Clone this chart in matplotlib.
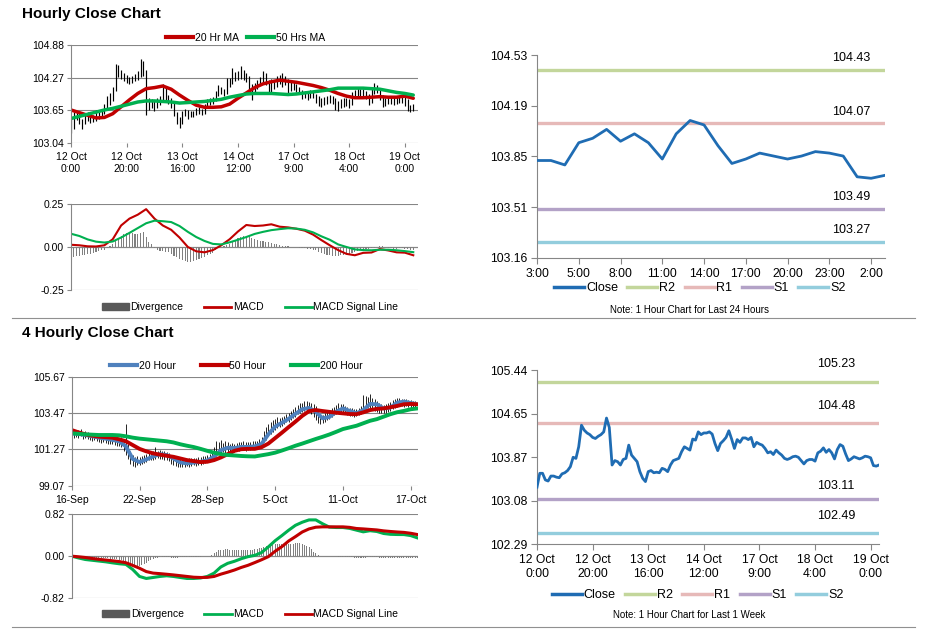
import matplotlib
matplotlib.use('Agg')
import matplotlib.pyplot as plt
from matplotlib.lines import Line2D
from matplotlib.patches import Patch
import numpy as np

plt.rcParams['font.family'] = ['Liberation Sans', 'DejaVu Sans']

# ---------------- hourly data: 12 Oct 0:00 -> 19 Oct, one value per hour ----------------
hourly_close = [
    103.32, 103.57, 103.57, 103.45, 103.43, 103.52, 103.52, 103.50, 103.49, 103.56,
    103.58, 103.62, 103.69, 103.86, 103.84, 104.05, 104.44, 104.35, 104.30, 104.27,
    104.22, 104.20, 104.24, 104.27, 104.32, 104.57, 104.40, 103.72, 103.80, 103.78,
    103.72, 103.82, 103.84, 104.08, 103.90, 103.84, 103.78, 103.60, 103.48, 103.42,
    103.60, 103.62, 103.58, 103.59, 103.58, 103.66, 103.64, 103.60, 103.72, 103.80,
    103.82, 103.84, 103.96, 104.05, 104.02, 103.99, 104.19, 104.17, 104.32, 104.27,
    104.30, 104.30, 104.32, 104.28, 104.11, 103.98, 104.11, 104.16, 104.22, 104.34,
    104.19, 104.02, 104.18, 104.13, 104.21, 104.21, 104.18, 104.22, 104.05, 104.13,
    104.10, 104.08, 104.02, 103.94, 103.96, 103.91, 103.99, 103.94, 103.90, 103.84,
    103.82, 103.84, 103.87, 103.88, 103.86, 103.80, 103.74, 103.80, 103.82, 103.82,
    103.79, 103.94, 103.97, 104.03, 103.95, 104.00, 103.94, 103.83, 104.00, 104.09,
    104.06, 103.92, 103.80, 103.83, 103.87, 103.85, 103.83, 103.85, 103.88, 103.87,
    103.85, 103.71, 103.70, 103.72,
]
hourly_hi = [
    103.50, 103.62, 103.63, 103.60, 103.50, 103.60, 103.62, 103.58, 103.56, 103.66,
    103.64, 103.68, 103.78, 103.92, 103.98, 104.10, 104.52, 104.50, 104.42, 104.36,
    104.32, 104.28, 104.30, 104.34, 104.40, 104.62, 104.58, 104.42, 103.88, 103.86,
    103.82, 103.88, 103.92, 104.14, 104.10, 103.94, 103.88, 103.80, 103.62, 103.52,
    103.64, 103.68, 103.66, 103.64, 103.64, 103.70, 103.72, 103.68, 103.78, 103.86,
    103.88, 103.90, 104.02, 104.12, 104.10, 104.06, 104.26, 104.26, 104.44, 104.38,
    104.40, 104.48, 104.42, 104.36, 104.30, 104.14, 104.16, 104.22, 104.28, 104.40,
    104.36, 104.22, 104.24, 104.22, 104.30, 104.32, 104.36, 104.30, 104.24, 104.18,
    104.18, 104.14, 104.10, 104.04, 104.02, 103.98, 104.04, 104.02, 103.96, 103.92,
    103.88, 103.90, 103.92, 103.94, 103.92, 103.88, 103.82, 103.86, 103.88, 103.88,
    103.86, 104.00, 104.04, 104.08, 104.06, 104.06, 104.02, 103.96, 104.06, 104.16,
    104.12, 104.08, 103.94, 103.88, 103.92, 103.90, 103.90, 103.92, 103.92, 103.92,
    103.90, 103.86, 103.76, 103.78,
]
hourly_lo = [
    103.22, 103.30, 103.48, 103.40, 103.30, 103.40, 103.46, 103.42, 103.44, 103.46,
    103.50, 103.52, 103.58, 103.66, 103.76, 103.82, 104.02, 104.28, 104.24, 104.20,
    104.16, 104.14, 104.16, 104.20, 104.22, 104.28, 104.30, 103.56, 103.66, 103.70,
    103.64, 103.70, 103.76, 103.82, 103.84, 103.78, 103.70, 103.54, 103.40, 103.32,
    103.40, 103.54, 103.50, 103.52, 103.52, 103.56, 103.58, 103.56, 103.58, 103.70,
    103.76, 103.78, 103.82, 103.92, 103.96, 103.92, 103.96, 104.10, 104.14, 104.20,
    104.22, 104.24, 104.22, 104.18, 104.04, 103.84, 103.96, 104.06, 104.12, 104.18,
    104.12, 103.96, 104.00, 104.06, 104.10, 104.14, 104.10, 104.12, 103.98, 104.02,
    104.04, 104.00, 103.96, 103.86, 103.88, 103.84, 103.88, 103.88, 103.80, 103.74,
    103.72, 103.76, 103.78, 103.80, 103.78, 103.66, 103.64, 103.70, 103.72, 103.74,
    103.70, 103.76, 103.88, 103.92, 103.88, 103.90, 103.86, 103.76, 103.80, 103.96,
    103.98, 103.84, 103.72, 103.74, 103.78, 103.78, 103.76, 103.78, 103.80, 103.80,
    103.74, 103.64, 103.62, 103.64,
]
hourly_div = [
    -0.060, -0.058, -0.055, -0.052, -0.048, -0.045, -0.042, -0.038, -0.034, -0.030,
    -0.025, -0.020, -0.015, -0.005, 0.005, 0.020, 0.035, 0.050, 0.065, 0.075,
    0.080, 0.082, 0.080, 0.078, 0.078, 0.082, 0.085, 0.060, 0.030, 0.015,
    -0.005, -0.015, -0.022, -0.025, -0.028, -0.030, -0.040, -0.050, -0.060, -0.070,
    -0.078, -0.082, -0.085, -0.085, -0.082, -0.078, -0.072, -0.065, -0.058, -0.048,
    -0.042, -0.035, -0.020, -0.008, 0.000, 0.005, 0.012, 0.020, 0.030, 0.040,
    0.050, 0.058, 0.062, 0.065, 0.062, 0.055, 0.048, 0.040, 0.035, 0.032,
    0.030, 0.028, 0.022, 0.018, 0.015, 0.012, 0.008, 0.006, 0.004, 0.002,
    0.000, -0.002, -0.004, -0.006, -0.008, -0.010, -0.012, -0.015, -0.020, -0.028,
    -0.035, -0.040, -0.045, -0.048, -0.050, -0.052, -0.050, -0.048, -0.045, -0.042,
    -0.040, -0.035, -0.028, -0.022, -0.018, -0.015, -0.012, -0.010, -0.008, -0.004,
    0.000, 0.004, 0.006, 0.002, -0.004, -0.008, -0.010, -0.010, -0.008, -0.008,
    -0.010, -0.012, -0.016, -0.020,
]
# smooth lines read every 3rd hour
hr_step = 3
ma20_hr = [
    103.66, 103.61, 103.56, 103.51, 103.52, 103.59, 103.72, 103.85, 103.97, 104.06,
    104.08, 104.11, 104.05, 103.94, 103.84, 103.75, 103.71, 103.71, 103.72, 103.77,
    103.88, 103.98, 104.08, 104.15, 104.19, 104.22, 104.20, 104.18, 104.15, 104.12,
    104.08, 104.03, 103.97, 103.92, 103.89, 103.89, 103.90, 103.91, 103.90, 103.90,
    103.92, 103.88,
]
ma50_hr = [
    103.50, 103.54, 103.58, 103.62, 103.66, 103.69, 103.73, 103.77, 103.81, 103.83,
    103.83, 103.82, 103.81, 103.79, 103.80, 103.81, 103.82, 103.84, 103.86, 103.90,
    103.93, 103.96, 103.97, 103.97, 103.97, 103.96, 103.95, 103.96, 103.98, 104.00,
    104.02, 104.04, 104.07, 104.07, 104.07, 104.07, 104.06, 104.05, 104.02, 103.99,
    103.97, 103.94,
]
macd_hr = [
    0.013, 0.010, 0.004, 0.003, 0.010, 0.045, 0.125, 0.165, 0.188, 0.220,
    0.165, 0.125, 0.100, 0.055, 0.000, -0.025, -0.031, -0.018, 0.010, 0.045,
    0.090, 0.128, 0.122, 0.125, 0.132, 0.118, 0.114, 0.106, 0.095, 0.072,
    0.040, 0.010, -0.018, -0.040, -0.048, -0.034, -0.032, -0.012, -0.020, -0.031,
    -0.033, -0.048,
]
signal_hr = [
    0.077, 0.064, 0.044, 0.031, 0.026, 0.032, 0.055, 0.082, 0.110, 0.138,
    0.153, 0.150, 0.145, 0.122, 0.088, 0.058, 0.035, 0.018, 0.015, 0.027,
    0.042, 0.058, 0.076, 0.088, 0.098, 0.104, 0.109, 0.107, 0.100, 0.085,
    0.062, 0.042, 0.015, 0.000, -0.014, -0.018, -0.019, -0.016, -0.016, -0.019,
    -0.024, -0.030,
]
hr_tick_pos = [0, 20, 40, 60, 80, 100, 120]
hr_tick_labels = ['12 Oct\n0:00', '12 Oct\n20:00', '13 Oct\n16:00', '14 Oct\n12:00',
                  '17 Oct\n9:00', '18 Oct\n4:00', '19 Oct\n0:00']

# ---------------- 4 hourly data: 16 Sep -> 17 Oct ----------------
h4_hi = [
    102.50, 102.40, 102.35, 102.45, 102.48, 102.35, 102.38, 102.30, 102.25, 102.22,
    102.20, 102.18, 102.15, 102.10, 102.08, 102.05, 102.00, 101.98, 101.95, 101.92,
    101.90, 101.88, 102.00, 101.85, 102.80, 101.60, 101.20, 100.90, 100.80, 100.85,
    100.80, 100.85, 100.95, 101.00, 101.05, 101.10, 101.15, 101.40, 101.20, 101.22,
    101.18, 101.15, 101.10, 101.05, 100.95, 100.85, 100.80, 100.75, 100.70, 100.72,
    100.68, 100.70, 100.72, 100.75, 100.72, 100.75, 100.78, 100.80, 100.85, 100.88,
    100.92, 101.00, 101.15, 101.40, 101.75, 101.70, 101.85, 101.65, 101.80, 101.70,
    101.60, 101.65, 101.60, 101.65, 101.70, 101.72, 101.75, 101.70, 101.72, 101.70,
    101.75, 101.78, 101.80, 101.90, 102.00, 102.40, 102.60, 102.80, 102.95, 103.05,
    103.10, 103.20, 103.15, 103.25, 103.30, 103.40, 103.50, 103.60, 103.70, 103.85,
    103.95, 104.05, 104.10, 104.18, 104.20, 104.15, 104.10, 104.00, 103.90, 103.60,
    103.40, 103.35, 103.45, 103.55, 103.60, 103.75, 103.85, 103.95, 104.05, 104.00,
    104.00, 103.90, 103.85, 103.80, 103.75, 103.70, 103.70, 103.80, 103.90, 104.55,
    104.50, 104.45, 104.60, 104.40, 104.30, 104.20, 104.10, 104.00, 103.95, 104.00,
    104.05, 104.15, 104.25, 104.35, 104.40, 104.38, 104.35, 104.30, 104.32, 104.28,
    104.25, 104.22, 104.20, 104.15,
]
h4_lo = [
    101.80, 101.95, 102.00, 101.98, 102.05, 101.92, 101.95, 101.90, 101.85, 101.80,
    101.82, 101.75, 101.70, 101.68, 101.72, 101.66, 101.62, 101.60, 101.58, 101.55,
    101.50, 101.48, 101.40, 101.20, 100.95, 100.70, 100.40, 100.25, 100.20, 100.30,
    100.30, 100.40, 100.45, 100.50, 100.60, 100.62, 100.65, 100.70, 100.72, 100.70,
    100.68, 100.65, 100.62, 100.55, 100.40, 100.30, 100.25, 100.22, 100.20, 100.22,
    100.18, 100.25, 100.22, 100.28, 100.30, 100.28, 100.32, 100.35, 100.38, 100.45,
    100.50, 100.55, 100.60, 100.70, 100.85, 101.00, 101.05, 101.10, 101.05, 101.10,
    101.00, 101.05, 101.10, 101.15, 101.20, 101.22, 101.25, 101.20, 101.25, 101.22,
    101.28, 101.30, 101.32, 101.40, 101.50, 101.70, 101.85, 102.05, 102.20, 102.35,
    102.45, 102.55, 102.60, 102.70, 102.80, 102.90, 102.95, 103.05, 103.15, 103.25,
    103.40, 103.50, 103.55, 103.60, 103.62, 103.55, 103.40, 103.20, 103.05, 102.85,
    102.82, 102.88, 102.95, 103.05, 103.10, 103.25, 103.35, 103.40, 103.50, 103.55,
    103.50, 103.40, 103.35, 103.30, 103.28, 103.25, 103.30, 103.35, 103.40, 103.50,
    103.70, 103.75, 103.75, 103.70, 103.60, 103.55, 103.50, 103.45, 103.45, 103.50,
    103.55, 103.60, 103.70, 103.80, 103.85, 103.90, 103.88, 103.85, 103.90, 103.85,
    103.80, 103.85, 103.75, 103.82,
]
h4_div = [
    0.000, -0.005, -0.010, -0.015, -0.020, -0.025, -0.028, -0.030, -0.032, -0.034,
    -0.035, -0.036, -0.037, -0.038, -0.040, -0.042, -0.045, -0.048, -0.050, -0.055,
    -0.060, -0.070, -0.080, -0.090, -0.110, -0.130, -0.150, -0.165, -0.175, -0.185,
    -0.190, -0.180, -0.160, -0.130, -0.100, -0.075, -0.055, -0.040, -0.030, -0.025,
    -0.022, -0.020, -0.022, -0.025, -0.028, -0.030, -0.030, -0.028, -0.026, -0.024,
    -0.022, -0.020, -0.018, -0.016, -0.014, -0.012, -0.010, -0.008, -0.006, -0.004,
    0.000, 0.010, 0.030, 0.060, 0.090, 0.110, 0.120, 0.125, 0.130, 0.130,
    0.128, 0.126, 0.125, 0.124, 0.122, 0.120, 0.118, 0.118, 0.120, 0.122,
    0.125, 0.130, 0.140, 0.150, 0.165, 0.180, 0.195, 0.210, 0.220, 0.225,
    0.230, 0.232, 0.234, 0.235, 0.236, 0.238, 0.240, 0.242, 0.245, 0.248,
    0.250, 0.248, 0.240, 0.225, 0.200, 0.170, 0.130, 0.090, 0.055, 0.030,
    0.012, 0.004, 0.000, 0.000, -0.002, -0.004, -0.005, -0.006, -0.008, -0.010,
    -0.012, -0.015, -0.018, -0.020, -0.025, -0.030, -0.035, -0.038, -0.040, -0.035,
    -0.030, -0.025, -0.020, -0.018, -0.020, -0.025, -0.030, -0.035, -0.040, -0.042,
    -0.040, -0.038, -0.035, -0.032, -0.030, -0.030, -0.032, -0.035, -0.036, -0.035,
    -0.034, -0.035, -0.036, -0.035,
]
h4_step = 3
ma20_h4 = [
    102.24, 102.20, 102.14, 102.06, 101.98, 101.92, 101.84, 101.76, 101.45, 100.69,
    100.50, 100.66, 100.84, 100.98, 100.93, 100.72, 100.48, 100.42, 100.47, 100.52,
    100.60, 100.83, 101.22, 101.37, 101.35, 101.42, 101.42, 101.45, 101.60, 102.18,
    102.65, 102.88, 103.12, 103.42, 103.70, 103.78, 103.55, 103.15, 103.23, 103.55,
    103.75, 103.60, 103.45, 103.65, 104.02, 104.00, 103.75, 103.80, 104.10, 104.16,
    104.08, 104.00,
]
ma50_h4 = [
    102.44, 102.30, 102.18, 102.10, 102.04, 102.01, 101.98, 101.88, 101.76, 101.53,
    101.30, 101.15, 101.03, 100.95, 100.88, 100.82, 100.72, 100.62, 100.56, 100.50,
    100.52, 100.62, 100.78, 100.98, 101.18, 101.28, 101.30, 101.30, 101.40, 101.62,
    101.95, 102.28, 102.62, 102.95, 103.30, 103.58, 103.65, 103.59, 103.54, 103.49,
    103.45, 103.41, 103.40, 103.51, 103.65, 103.72, 103.75, 103.82, 103.90, 104.00,
    104.02, 104.00,
]
ma200_h4 = [
    102.24, 102.21, 102.18, 102.16, 102.14, 102.14, 102.14, 102.12, 102.06, 101.98,
    101.92, 101.88, 101.84, 101.80, 101.76, 101.69, 101.58, 101.49, 101.41, 101.30,
    101.18, 101.07, 100.98, 100.93, 100.90, 100.87, 100.85, 100.84, 100.91, 100.98,
    101.07, 101.20, 101.34, 101.49, 101.62, 101.76, 101.90, 102.03, 102.17, 102.33,
    102.50, 102.60, 102.70, 102.85, 103.00, 103.10, 103.25, 103.40, 103.52, 103.60,
    103.70, 103.75,
]
macd_h4 = [
    0.000, -0.035, -0.065, -0.080, -0.095, -0.110, -0.130, -0.148, -0.160, -0.260,
    -0.395, -0.434, -0.415, -0.395, -0.382, -0.395, -0.415, -0.434, -0.434, -0.425,
    -0.395, -0.330, -0.210, -0.140, -0.100, -0.050, -0.010, 0.015, 0.070, 0.180,
    0.300, 0.400, 0.505, 0.600, 0.660, 0.705, 0.705, 0.630, 0.565, 0.557,
    0.557, 0.540, 0.506, 0.473, 0.495, 0.480, 0.441, 0.425, 0.421, 0.420,
    0.400, 0.355,
]
signal_h4 = [
    0.000, -0.012, -0.026, -0.045, -0.062, -0.075, -0.090, -0.105, -0.128, -0.180,
    -0.235, -0.300, -0.330, -0.340, -0.352, -0.365, -0.380, -0.395, -0.410, -0.415,
    -0.413, -0.395, -0.350, -0.312, -0.270, -0.220, -0.178, -0.125, -0.070, -0.010,
    0.095, 0.185, 0.295, 0.380, 0.470, 0.530, 0.563, 0.570, 0.570, 0.570,
    0.570, 0.560, 0.538, 0.530, 0.520, 0.510, 0.492, 0.480, 0.470, 0.462,
    0.445, 0.420,
]
h4_tick_pos = [0, 30, 60, 90, 120, 150]
h4_tick_labels = ['16-Sep', '22-Sep', '28-Sep', '5-Oct', '11-Oct', '17-Oct']

# ---------------- support / resistance panels ----------------
day_close = hourly_close[-26:]
day_tick_pos = [0, 3, 6, 9, 12, 15, 18, 21, 24]
day_tick_labels = ['3:00', '5:00', '8:00', '11:00', '14:00', '17:00', '20:00', '23:00', '2:00']
day_levels = [104.43, 104.07, 103.49, 103.27]      # R2, R1, S1, S2
week_levels = [105.23, 104.48, 103.11, 102.49]
level_names = ['R2', 'R1', 'S1', 'S2']

RED = '#C00000'
GREEN = '#00B050'
BLUE = '#4F81BD'
CLOSE_BLUE = '#1F6CB3'
LEVEL_COLORS = ['#C3D69B', '#E6B9B8', '#B3A2C7', '#93CDDD']
GRID = '#868686'
DIV_GRAY = '#808080'


def style_left(ax, ylim, ylabels, xmax):
    ax.set_xlim(0, xmax)
    ax.set_ylim(*ylim)
    ax.set_yticks(np.linspace(ylim[0], ylim[1], len(ylabels)))
    ax.set_yticklabels(ylabels)
    ax.yaxis.grid(True, color=GRID, lw=0.8)
    ax.set_axisbelow(True)
    for s in ['top', 'right', 'bottom']:
        ax.spines[s].set_visible(False)
    ax.spines['left'].set_color(GRID)
    ax.tick_params(axis='y', length=3, color=GRID, labelsize=7.5, pad=2)


def price_panel(ax, hi, lo, mas, step, ylim, ylabels, xmax, tick_pos, tick_labels, bar_lw):
    x = np.arange(len(hi))
    ax.vlines(x, lo, hi, color='black', lw=bar_lw)
    for vals, color, lw in mas:
        ax.plot(np.arange(len(vals)) * step, vals, color=color, lw=lw, solid_capstyle='round')
    style_left(ax, ylim, ylabels, xmax)
    ax.set_xticks(tick_pos)
    ax.set_xticklabels(tick_labels)
    ax.tick_params(axis='x', length=3, color=GRID, labelsize=7.5, pad=3.5)


def macd_panel(ax, div, macd, signal, step, lim, labels, xmax, macd_color, sig_color, lw, bar_w):
    ax.bar(np.arange(len(div)), div, width=bar_w, color=DIV_GRAY, lw=0)
    ax.axhline(0, color=GRID, lw=0.8, zorder=0)
    ax.plot(np.arange(len(macd)) * step, macd, color=macd_color, lw=lw)
    ax.plot(np.arange(len(signal)) * step, signal, color=sig_color, lw=lw)
    style_left(ax, (-lim, lim), labels, xmax)
    ax.set_xticks([])
    handles = [Patch(color='#595959'), Line2D([], [], color=macd_color, lw=2),
               Line2D([], [], color=sig_color, lw=2)]
    return handles


def level_panel(ax, close, levels, label_x, offsets, ylim, ylabels, xmax, tick_pos, tick_labels):
    x = np.arange(len(close))
    for lvl, color in zip(levels, LEVEL_COLORS):
        ax.plot([0, xmax], [lvl, lvl], color=color, lw=2.4)
    ax.plot(x, close, color=CLOSE_BLUE, lw=2.0, zorder=3)
    for lvl, off in zip(levels, offsets):
        ax.annotate(f'{lvl:.2f}', xy=(label_x, lvl), xytext=(0, off), textcoords='offset points',
                    ha='center', va='center', fontsize=9)
    ax.set_xlim(0, xmax)
    ax.set_ylim(*ylim)
    ax.set_yticks(np.linspace(ylim[0], ylim[1], len(ylabels)))
    ax.set_yticklabels(ylabels)
    ax.set_xticks(tick_pos)
    ax.set_xticklabels(tick_labels)
    for s in ['top', 'right']:
        ax.spines[s].set_visible(False)
    for s in ['left', 'bottom']:
        ax.spines[s].set_color(GRID)
    ax.tick_params(length=4, color=GRID, labelsize=8.7, pad=3)
    handles = [Line2D([], [], color=CLOSE_BLUE, lw=2.5)]
    handles += [Line2D([], [], color=c, lw=2.5) for c in LEVEL_COLORS]
    return handles


fig = plt.figure(figsize=(9.28, 6.38), dpi=100)
W, H = 928.0, 638.0


def axes_px(x0, y0, x1, y1):
    return fig.add_axes([x0 / W, 1 - y1 / H, (x1 - x0) / W, (y1 - y0) / H])


# ---- Hourly close chart ----
fig.text(22 / W, 1 - 14 / H, 'Hourly Close Chart', fontsize=11, weight='bold', va='center')
ax1 = axes_px(71, 45, 418, 143)
price_panel(ax1, hourly_hi, hourly_lo, [(ma20_hr, RED, 2.5), (ma50_hr, GREEN, 2.5)], hr_step,
            (103.04, 104.88), ['103.04', '103.65', '104.27', '104.88'], 124.7,
            hr_tick_pos, hr_tick_labels, 0.85)
ax1.legend([Line2D([], [], color=RED, lw=3), Line2D([], [], color=GREEN, lw=3)],
           ['20 Hr MA', '50 Hrs MA'], loc='center', bbox_to_anchor=(0.503, 1.07), ncol=2,
           frameon=False, fontsize=7.5, handlelength=2.6, handletextpad=0.15, columnspacing=0.8)

ax2 = axes_px(71, 204, 418, 290)
h = macd_panel(ax2, hourly_div, macd_hr, signal_hr, hr_step, 0.25, ['-0.25', '0.00', '0.25'],
               124.7, RED, GREEN, 1.5, 0.4)
ax2.legend(h, ['Divergence', 'MACD', 'MACD Signal Line'], loc='center',
           bbox_to_anchor=(0.516, -0.2), ncol=3, frameon=False, fontsize=7.5,
           handlelength=2.6, handletextpad=0.15, columnspacing=2.0)

ax3 = axes_px(537, 55, 885, 258)
h = level_panel(ax3, day_close, day_levels, 22.6, [8.4, 8.1, 9.1, 8.9],
                (103.162, 104.532), ['103.16', '103.51', '103.85', '104.19', '104.53'], 25,
                day_tick_pos, day_tick_labels)
ax3.legend(h, ['Close'] + level_names, loc='center', bbox_to_anchor=(0.468, -0.148), ncol=5,
           frameon=False, fontsize=9, handlelength=2.4, handletextpad=0.15, columnspacing=0.75)
fig.text(690 / W, 1 - 310 / H, 'Note: 1 Hour Chart for Last 24 Hours', fontsize=7,
         ha='center', va='center')

# ---- 4 hourly close chart ----
fig.text(22 / W, 1 - 333 / H, '4 Hourly Close Chart', fontsize=11, weight='bold', va='center')
ax4 = axes_px(71.7, 376.7, 417.5, 485.7)
price_panel(ax4, h4_hi, h4_lo, [(ma20_h4, BLUE, 2.8), (ma50_h4, RED, 2.8), (ma200_h4, GREEN, 2.8)],
            h4_step, (99.07, 105.67), ['99.07', '101.27', '103.47', '105.67'], 153,
            h4_tick_pos, h4_tick_labels, 0.6)
ax4.legend([Line2D([], [], color=c, lw=3) for c in (BLUE, RED, GREEN)],
           ['20 Hour', '50 Hour', '200 Hour'], loc='center', bbox_to_anchor=(0.476, 1.10), ncol=3,
           frameon=False, fontsize=7.5, handlelength=2.6, handletextpad=0.15, columnspacing=2.4)

ax5 = axes_px(71.7, 514, 417.5, 598.3)
h = macd_panel(ax5, h4_div, macd_h4, signal_h4, h4_step, 0.82, ['-0.82', '0.00', '0.82'],
               153, GREEN, RED, 2.2, 0.45)
ax5.legend(h, ['Divergence', 'MACD', 'MACD Signal Line'], loc='center',
           bbox_to_anchor=(0.516, -0.19), ncol=3, frameon=False, fontsize=7.5,
           handlelength=2.6, handletextpad=0.15, columnspacing=2.0)

ax6 = axes_px(537, 370, 879, 544)
h = level_panel(ax6, hourly_close, week_levels, 107.5, [12.7, 12.5, 9.1, 12.0],
                (102.29, 105.44), ['102.29', '103.08', '103.87', '104.65', '105.44'], 123,
                hr_tick_pos, hr_tick_labels)
ax6.legend(h, ['Close'] + level_names, loc='center', bbox_to_anchor=(0.47, -0.293), ncol=5,
           frameon=False, fontsize=9, handlelength=2.4, handletextpad=0.15, columnspacing=0.75)
fig.text(689 / W, 1 - 615 / H, 'Note: 1 Hour Chart for Last 1 Week', fontsize=7,
         ha='center', va='center')

# separators between the two sections
for y in (318, 627):
    fig.add_artist(Line2D([12 / W, 915 / W], [1 - y / H, 1 - y / H], color='#909090', lw=0.8))

fig.savefig('out.png', dpi=100)
